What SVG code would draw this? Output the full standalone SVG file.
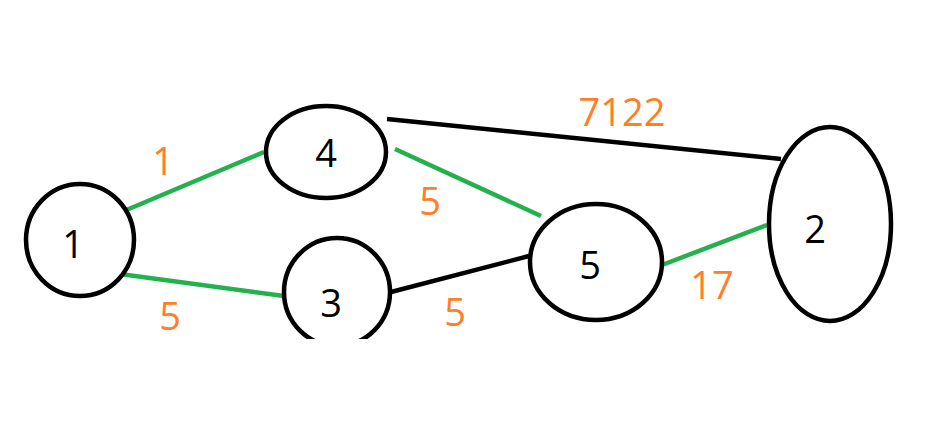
<svg xmlns="http://www.w3.org/2000/svg" width="940" height="440" viewBox="0 0 940 440">
<style>
.node{fill:#fff;stroke:#000;stroke-width:4.5}
.lbl{font-family:"Open Sans","Liberation Sans",sans-serif;font-size:38px;fill:#000;text-anchor:middle;dominant-baseline:central}
.w{font-family:"Open Sans","Liberation Sans",sans-serif;font-size:38px;fill:#ff7f27;text-anchor:middle;dominant-baseline:central}
.g{stroke:#22b14c;stroke-width:4.5;fill:none}
.b{stroke:#000;stroke-width:4.5;fill:none}
</style>
<rect width="940" height="440" fill="#fff"/>
<g id="edges">
<line class="g" x1="124" y1="211" x2="264" y2="152"/>
<line class="g" x1="120" y1="274" x2="284" y2="296"/>
<line class="b" x1="387" y1="119" x2="781" y2="159"/>
<line class="g" x1="395" y1="149" x2="541" y2="216"/>
<line class="b" x1="391" y1="292" x2="529" y2="256"/>
<line class="g" x1="662" y1="265" x2="767" y2="225"/>
<text class="w" x="163" y="160">1</text>
<text class="w" x="170" y="315">5</text>
<text class="w" x="622" y="111">7122</text>
<text class="w" x="430" y="200">5</text>
<text class="w" x="455" y="311">5</text>
<text class="w" x="712" y="284">17</text>
</g>
<g id="n1"><ellipse class="node" cx="80" cy="240" rx="54" ry="56"/><text class="lbl" x="73" y="243">1</text></g>
<g id="n4"><ellipse class="node" cx="326" cy="152" rx="60" ry="46"/><text class="lbl" x="326" y="152">4</text></g>
<g id="n3"><ellipse class="node" cx="337" cy="292" rx="53" ry="54"/><rect x="270" y="339" width="140" height="20" fill="#fff"/><text class="lbl" x="331" y="302">3</text></g>
<g id="n5"><ellipse class="node" cx="596" cy="262" rx="66" ry="58"/><text class="lbl" x="590" y="264">5</text></g>
<g id="n2"><ellipse class="node" cx="830" cy="224" rx="61" ry="97"/><text class="lbl" x="815" y="228">2</text></g>
</svg>
